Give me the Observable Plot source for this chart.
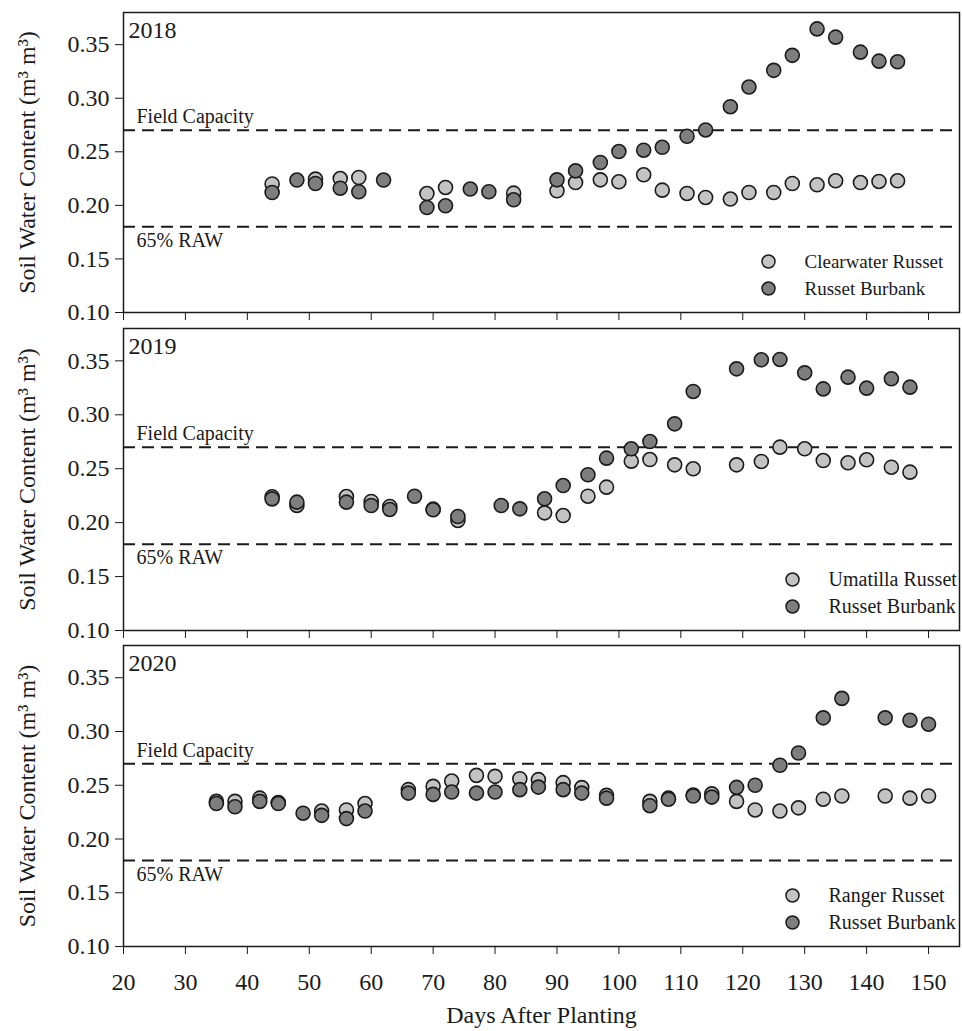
<!DOCTYPE html>
<html><head><meta charset="utf-8">
<script src="https://cdn.jsdelivr.net/npm/d3@7"></script>
<script src="https://cdn.jsdelivr.net/npm/@observablehq/plot@0.6"></script>
<style>
body{margin:0;background:#fff;}
#chart{width:962px;height:1031px;}
#chart svg{display:block;overflow:visible;}
</style>
</head><body><div id="chart"></div>
<script>
const xTicks = [20,30,40,50,60,70,80,90,100,110,120,130,140,150];
const yTicks = [0.10,0.15,0.20,0.25,0.30,0.35];
const fieldCapacity = 0.27;
const raw65 = 0.18;
const burbankName = "Russet Burbank";

// 2018
const cw2018Days = [44,51,55,58,69,72,83,90,93,97,100,104,107,111,114,118,121,125,128,132,135,139,142,145];
const cw2018Vals = [0.220,0.2245,0.225,0.226,0.211,0.2167,0.2114,0.2136,0.2213,0.2238,0.222,0.2285,0.2142,0.2111,0.2074,0.2059,0.212,0.212,0.2204,0.2192,0.2229,0.2213,0.2223,0.2229];
const rb2018Days = [44,48,51,55,58,62,69,72,76,79,83,90,93,97,100,104,107,111,114,118,121,125,128,132,135,139,142,145];
const rb2018Vals = [0.212,0.2236,0.2204,0.216,0.2127,0.2236,0.198,0.1996,0.2152,0.2127,0.2052,0.2238,0.2322,0.240,0.2502,0.2515,0.2542,0.2645,0.2704,0.2921,0.3104,0.326,0.340,0.3647,0.357,0.343,0.3346,0.334];

// 2019
const um2019Days = [44,48,56,60,63,70,74,88,91,95,98,102,105,109,112,119,123,126,130,133,137,140,144,147];
const um2019Vals = [0.224,0.216,0.2242,0.2196,0.215,0.2125,0.202,0.2091,0.2066,0.2245,0.2329,0.257,0.2585,0.2536,0.2499,0.2536,0.2567,0.270,0.2685,0.2576,0.2555,0.2583,0.2514,0.2468];
const rb2019Days = [44,48,56,60,63,67,70,74,81,84,88,91,95,98,102,105,109,112,119,123,126,130,133,137,140,144,147];
const rb2019Vals = [0.222,0.219,0.219,0.2159,0.2122,0.2245,0.2119,0.2057,0.2159,0.2128,0.2221,0.2344,0.2444,0.2598,0.2685,0.2752,0.2916,0.3216,0.3426,0.351,0.3513,0.3389,0.324,0.3349,0.3247,0.3334,0.3256];

// 2020
const rr2020Days = [35,38,42,45,52,56,59,66,70,73,77,80,84,87,91,94,98,105,108,112,115,119,122,126,129,133,136,143,147,150];
const rr2020Vals = [0.235,0.235,0.238,0.234,0.226,0.227,0.233,0.2459,0.249,0.2539,0.2592,0.2583,0.2561,0.2552,0.2524,0.2478,0.2406,0.235,0.238,0.241,0.242,0.235,0.227,0.226,0.229,0.237,0.240,0.240,0.238,0.240];
const rb2020Days = [35,38,42,45,49,52,56,59,66,70,73,77,80,84,87,91,94,98,105,108,112,115,119,122,126,129,133,136,143,147,150];
const rb2020Vals = [0.233,0.230,0.235,0.233,0.224,0.222,0.219,0.226,0.2427,0.2415,0.2437,0.2427,0.2437,0.2459,0.2483,0.2459,0.2427,0.238,0.231,0.237,0.240,0.239,0.248,0.250,0.2686,0.280,0.3127,0.3308,0.3127,0.3105,0.3068];

const LIGHT = "#c3c3c3", DARK = "#7e7e7e", INK = "#1a1a1a";
const FONT = "'Liberation Serif','Times New Roman',Times,serif";

function rows(days, vals){ return days.map((d,i)=>({day:d, swc:vals[i]})); }

function panel(o){
  const light = rows(o.lightDays, o.lightVals);
  const dark = rows(o.darkDays, o.darkVals);
  const marks = [
    Plot.ruleY([fieldCapacity, raw65], {stroke:INK, strokeWidth:2, strokeDasharray:"12,7"}),
    Plot.text([fieldCapacity], {y:d=>d, text:()=>"Field Capacity", frameAnchor:"left", dx:13, dy:-7, lineAnchor:"bottom", textAnchor:"start", fontSize:20, fill:INK}),
    Plot.text([raw65], {y:d=>d, text:()=>"65% RAW", frameAnchor:"left", dx:13, dy:20, lineAnchor:"bottom", textAnchor:"start", fontSize:20, fill:INK}),
    Plot.dot(light, {x:"day", y:"swc", r:7, fill:LIGHT, stroke:INK, strokeWidth:1.6}),
    Plot.dot(dark, {x:"day", y:"swc", r:7, fill:DARK, stroke:INK, strokeWidth:1.6}),
    Plot.frame({stroke:INK, strokeWidth:1.5}),
    Plot.text([o.year], {text:d=>d, frameAnchor:"top-left", dx:5, dy:8, lineAnchor:"top", textAnchor:"start", fontSize:24, fill:INK}),
    Plot.dot([o.lightName], {frameAnchor:"bottom-right", dx:o.legDx, dy:-51, r:6.5, fill:LIGHT, stroke:INK, strokeWidth:1.5}),
    Plot.dot([burbankName], {frameAnchor:"bottom-right", dx:o.legDx, dy:-24, r:6.5, fill:DARK, stroke:INK, strokeWidth:1.5}),
    Plot.text([o.lightName], {text:d=>d, frameAnchor:"bottom-right", dx:o.legDx+36, dy:-51, textAnchor:"start", lineAnchor:"middle", fontSize:o.legFont, fill:INK}),
    Plot.text([burbankName], {text:d=>d, frameAnchor:"bottom-right", dx:o.legDx+36, dy:-24, textAnchor:"start", lineAnchor:"middle", fontSize:o.legFont, fill:INK}),
    Plot.text(["Soil Water Content (m³ m³)"], {text:d=>d, frameAnchor:"left", dx:-96, rotate:-90, textAnchor:"middle", lineAnchor:"middle", fontSize:24, fill:INK})
  ];
  if (o.showX) {
    marks.push(Plot.text(["Days After Planting"], {text:d=>d, frameAnchor:"bottom", dy:69, textAnchor:"middle", lineAnchor:"middle", fontSize:24, fill:INK}));
  }
  return Plot.plot({
    width:962, height:o.top+o.inner+o.bottom,
    marginLeft:123, marginRight:3, marginTop:o.top, marginBottom:o.bottom,
    style:{fontFamily:FONT, fontSize:"24px", background:"transparent", overflow:"visible", color:INK},
    x:{domain:[20,155], ticks:xTicks, tickSize:8, tickPadding:18, tickFormat: o.showX ? (d=>String(d)) : (()=>""), label:null},
    y:{domain:[0.10,0.38], ticks:yTicks, tickSize:8, tickPadding:6, tickFormat:d=>d.toFixed(2), label:null},
    marks
  });
}

const chart = document.getElementById("chart");
chart.append(panel({year:"2018", lightName:"Clearwater Russet", lightDays:cw2018Days, lightVals:cw2018Vals, darkDays:rb2018Days, darkVals:rb2018Vals, top:12, inner:300, bottom:8, showX:false, legDx:-191, legFont:19}));
chart.append(panel({year:"2019", lightName:"Umatilla Russet", lightDays:um2019Days, lightVals:um2019Vals, darkDays:rb2019Days, darkVals:rb2019Vals, top:8, inner:302, bottom:7, showX:false, legDx:-167, legFont:20}));
chart.append(panel({year:"2020", lightName:"Ranger Russet", lightDays:rr2020Days, lightVals:rr2020Vals, darkDays:rb2020Days, darkVals:rb2020Vals, top:8, inner:301, bottom:85, showX:true, legDx:-167, legFont:20}));
</script>
</body></html>
